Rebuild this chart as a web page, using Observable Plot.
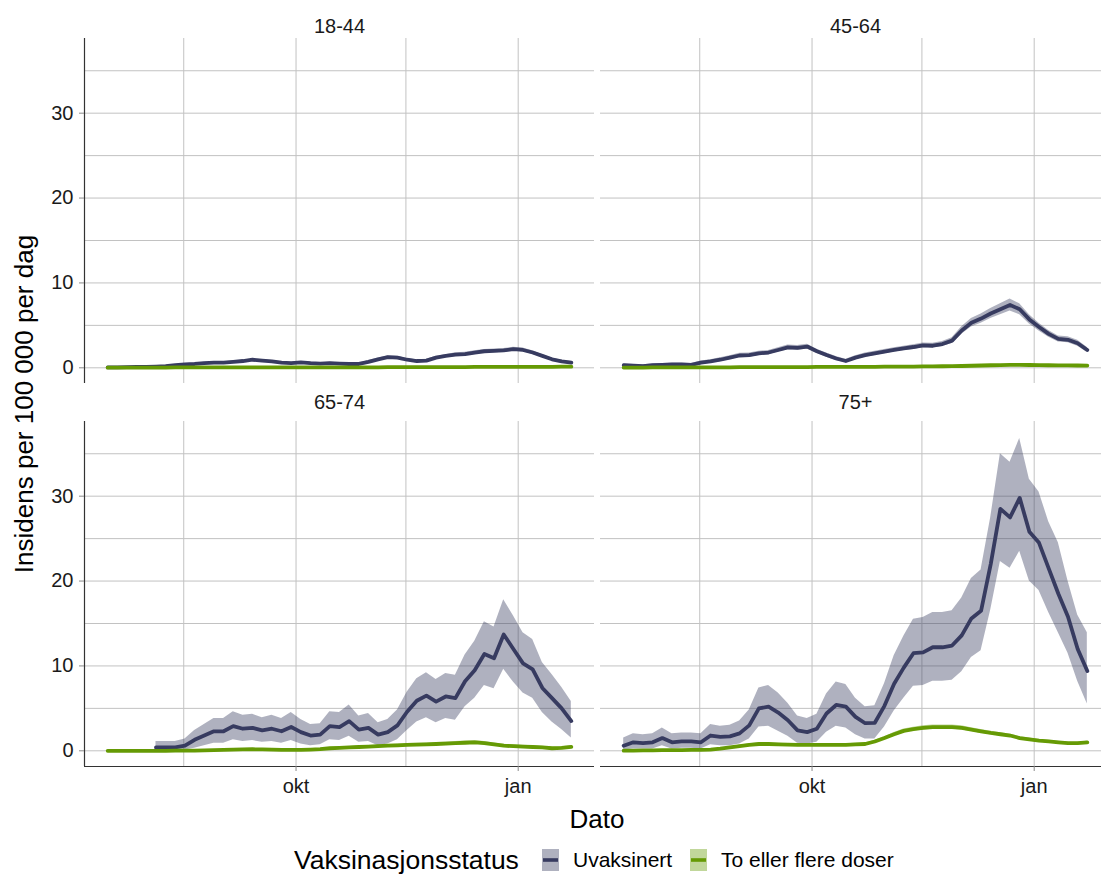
<!DOCTYPE html>
<html>
<head>
<meta charset="utf-8">
<script src="https://cdn.jsdelivr.net/npm/d3@7"></script>
<script src="https://cdn.jsdelivr.net/npm/@observablehq/plot@0.6"></script>
<style>
  html, body { margin: 0; padding: 0; overflow: hidden; background: #fff; }
  #chart { position: relative; width: 1101px; }
  #chart > svg { max-width: none !important; width: 1112px !important; height: 840px !important; display: block; }
  .legend { position: relative; height: 39px; font-family: "Liberation Sans", Arial, sans-serif; color: #000; }
  .legend .title { position: absolute; left: 294px; top: 4px; font-size: 26.5px; line-height: 32px; }
  .legend .item { position: absolute; top: 4px; height: 32px; display: flex; align-items: center; font-size: 21px; }
  .legend .item svg { margin-right: 14px; }
</style>
</head>
<body>
<div id="chart"></div>
<script>
// Daily incidence per 100 000, sampled every fourth day (15 Jul 2021 – 23 Jan 2022)
const dates = [
  "2021-07-15","2021-07-19","2021-07-23","2021-07-27","2021-07-31","2021-08-04","2021-08-08","2021-08-12","2021-08-16","2021-08-20",
  "2021-08-24","2021-08-28","2021-09-01","2021-09-05","2021-09-09","2021-09-13","2021-09-17","2021-09-21","2021-09-25","2021-09-29",
  "2021-10-03","2021-10-07","2021-10-11","2021-10-15","2021-10-19","2021-10-23","2021-10-27","2021-10-31","2021-11-04","2021-11-08",
  "2021-11-12","2021-11-16","2021-11-20","2021-11-24","2021-11-28","2021-12-02","2021-12-06","2021-12-10","2021-12-14","2021-12-18",
  "2021-12-22","2021-12-26","2021-12-30","2022-01-03","2022-01-07","2022-01-11","2022-01-15","2022-01-19","2022-01-23"
];

const ageGroups = ["18-44", "45-64", "65-74", "75+"];
const statuses = ["Uvaksinert", "To eller flere doser"];
const statusColors = ["#373b60", "#659a04"];

// 18-44
const uv1   = [0.05,0.05,0.08,0.1,0.12,0.15,0.2,0.3,0.4,0.45, 0.55,0.6,0.6,0.7,0.8,0.95,0.85,0.75,0.6,0.55, 0.65,0.55,0.5,0.55,0.5,0.45,0.45,0.7,1.0,1.25, 1.2,0.95,0.8,0.85,1.2,1.4,1.55,1.6,1.8,1.95, 2.0,2.05,2.2,2.1,1.8,1.4,1.0,0.75,0.6];
const uvLo1 = [0,0,0.03,0.05,0.07,0.1,0.15,0.25,0.3,0.35, 0.45,0.5,0.5,0.6,0.7,0.85,0.75,0.65,0.5,0.45, 0.55,0.45,0.4,0.45,0.4,0.35,0.35,0.55,0.85,1.1, 1.05,0.8,0.65,0.7,1.05,1.25,1.33,1.38,1.58,1.73, 1.78,1.83,1.98,1.88,1.58,1.25,0.85,0.6,0.45];
const uvHi1 = [0.1,0.1,0.13,0.15,0.17,0.2,0.25,0.35,0.5,0.55, 0.65,0.7,0.7,0.8,0.9,1.05,0.95,0.85,0.7,0.65, 0.75,0.65,0.6,0.65,0.6,0.55,0.55,0.85,1.15,1.4, 1.35,1.1,0.95,1.0,1.35,1.55,1.77,1.82,2.02,2.17, 2.22,2.27,2.42,2.32,2.02,1.55,1.15,0.9,0.75];
const vx1   = [0.02,0.02,0.02,0.03,0.03,0.03,0.03,0.04,0.04,0.04, 0.04,0.05,0.05,0.05,0.05,0.05,0.05,0.05,0.05,0.05, 0.05,0.05,0.05,0.05,0.05,0.05,0.06,0.06,0.06,0.07, 0.07,0.07,0.07,0.08,0.08,0.08,0.09,0.09,0.1,0.1, 0.1,0.11,0.11,0.12,0.12,0.12,0.12,0.13,0.14];
const vxLo1 = [0,0,0,0.01,0.01,0.01,0.01,0.02,0.02,0.02, 0.02,0.03,0.03,0.03,0.03,0.03,0.03,0.03,0.03,0.03, 0.03,0.03,0.03,0.03,0.03,0.03,0.04,0.04,0.04,0.05, 0.05,0.05,0.05,0.06,0.06,0.06,0.07,0.07,0.08,0.08, 0.08,0.09,0.09,0.1,0.1,0.1,0.1,0.11,0.12];
const vxHi1 = [0.05,0.05,0.05,0.06,0.06,0.06,0.06,0.07,0.07,0.07, 0.07,0.08,0.08,0.08,0.08,0.08,0.08,0.08,0.08,0.08, 0.08,0.08,0.08,0.08,0.08,0.08,0.09,0.09,0.09,0.1, 0.1,0.1,0.1,0.11,0.11,0.11,0.12,0.12,0.13,0.13, 0.13,0.14,0.14,0.15,0.15,0.15,0.15,0.16,0.17];

// 45-64
const uv2   = [0.3,0.25,0.2,0.3,0.35,0.4,0.4,0.35,0.6,0.75, 0.95,1.2,1.45,1.5,1.7,1.8,2.1,2.4,2.35,2.5, 1.95,1.5,1.1,0.8,1.2,1.5,1.7,1.9,2.1,2.3, 2.45,2.65,2.6,2.8,3.2,4.4,5.3,5.8,6.4,6.9, 7.4,6.9,5.7,4.8,4.0,3.4,3.3,2.9,2.1];
const uvLo2 = [0.15,0.1,0.05,0.15,0.2,0.25,0.25,0.2,0.4,0.55, 0.72,0.97,1.2,1.25,1.45,1.55,1.85,2.12,2.07,2.22, 1.7,1.25,0.87,0.6,0.97,1.25,1.45,1.65,1.85,2.05, 2.17,2.37,2.32,2.5,2.85,3.95,4.8,5.25,5.8,6.25, 6.7,6.25,5.15,4.35,3.6,3.05,2.95,2.55,1.8];
const uvHi2 = [0.45,0.4,0.35,0.45,0.5,0.55,0.55,0.5,0.8,0.95, 1.18,1.43,1.7,1.75,1.95,2.05,2.35,2.68,2.63,2.78, 2.2,1.75,1.33,1.0,1.43,1.75,1.95,2.15,2.35,2.55, 2.73,2.93,2.88,3.1,3.55,4.85,5.8,6.35,7.0,7.55, 8.1,7.55,6.25,5.25,4.4,3.75,3.65,3.25,2.4];
const vx2   = [0.03,0.03,0.03,0.04,0.04,0.04,0.05,0.05,0.05,0.06, 0.06,0.06,0.07,0.07,0.07,0.08,0.08,0.08,0.09,0.09, 0.1,0.1,0.1,0.11,0.11,0.12,0.12,0.13,0.14,0.15, 0.15,0.16,0.17,0.18,0.19,0.21,0.24,0.27,0.3,0.32, 0.34,0.35,0.33,0.31,0.3,0.29,0.28,0.27,0.26];
const vxLo2 = [0,0,0,0,0,0,0.01,0.01,0.01,0.02, 0.02,0.02,0.03,0.03,0.03,0.04,0.04,0.04,0.05,0.05, 0.06,0.06,0.06,0.07,0.07,0.08,0.08,0.09,0.1,0.11, 0.11,0.12,0.13,0.14,0.15,0.16,0.19,0.22,0.24,0.26, 0.28,0.29,0.27,0.25,0.24,0.23,0.22,0.21,0.2];
const vxHi2 = [0.08,0.08,0.08,0.09,0.09,0.09,0.1,0.1,0.1,0.11, 0.11,0.11,0.12,0.12,0.12,0.13,0.13,0.13,0.14,0.14, 0.15,0.15,0.15,0.16,0.16,0.17,0.17,0.18,0.19,0.2, 0.2,0.21,0.22,0.23,0.24,0.26,0.3,0.33,0.36,0.38, 0.4,0.41,0.39,0.37,0.36,0.35,0.34,0.33,0.32];

// 65-74 (no unvaccinated cases before mid-August)
const uv3   = [null,null,null,null,null,0.4,0.4,0.4,0.6,1.3, 1.8,2.3,2.3,2.9,2.6,2.7,2.4,2.6,2.3,2.8, 2.2,1.8,1.9,2.9,2.8,3.5,2.5,2.7,1.9,2.2, 3.0,4.6,5.9,6.5,5.8,6.4,6.2,8.2,9.5,11.4, 10.9,13.7,12.0,10.3,9.6,7.4,6.2,5.0,3.5];
const uvLo3 = [null,null,null,null,null,0,0,0,0.1,0.3, 0.6,0.9,0.9,1.3,1.1,1.2,1.0,1.1,0.9,1.2, 0.8,0.6,0.7,1.3,1.2,1.7,1.0,1.1,0.6,0.8, 1.3,2.4,3.4,3.9,3.3,3.8,3.6,5.2,6.2,7.7, 7.3,9.6,8.1,6.8,6.2,4.5,3.4,2.5,1.5];
const uvHi3 = [null,null,null,null,null,1.1,1.1,1.1,1.4,2.4, 3.1,3.8,3.8,4.6,4.2,4.3,3.9,4.2,3.8,4.5, 3.7,3.1,3.2,4.6,4.5,5.4,4.1,4.4,3.3,3.7, 4.8,6.9,8.5,9.2,8.4,9.1,8.9,11.3,12.9,15.2, 14.6,17.8,15.9,13.9,13.1,10.4,9.0,7.5,5.8];
const vx3   = [0,0,0,0,0,0,0,0.01,0.02,0.03, 0.05,0.07,0.1,0.13,0.16,0.18,0.16,0.14,0.12,0.12, 0.12,0.15,0.2,0.3,0.35,0.4,0.45,0.5,0.55,0.6, 0.65,0.7,0.72,0.75,0.8,0.85,0.9,0.95,1.0,0.9, 0.75,0.6,0.55,0.5,0.45,0.4,0.3,0.35,0.45];
const vxLo3 = [0,0,0,0,0,0,0,0,0,0, 0.01,0.03,0.05,0.08,0.1,0.12,0.1,0.08,0.07,0.07, 0.07,0.09,0.13,0.21,0.25,0.3,0.34,0.38,0.42,0.46, 0.5,0.54,0.56,0.58,0.62,0.66,0.7,0.74,0.78,0.7, 0.57,0.44,0.39,0.35,0.31,0.27,0.18,0.22,0.3];
const vxHi3 = [0.02,0.02,0.02,0.02,0.03,0.03,0.03,0.04,0.05,0.07, 0.09,0.12,0.15,0.18,0.22,0.24,0.22,0.2,0.17,0.17, 0.17,0.21,0.27,0.39,0.45,0.5,0.56,0.62,0.68,0.74, 0.8,0.86,0.88,0.92,0.98,1.04,1.1,1.16,1.22,1.1, 0.93,0.76,0.71,0.65,0.59,0.53,0.42,0.48,0.6];

// 75+
const uv4   = [0.6,1.0,0.9,1.0,1.5,1.0,1.1,1.1,1.0,1.8, 1.65,1.7,2.05,3.0,5.0,5.2,4.5,3.6,2.4,2.2, 2.6,4.4,5.4,5.2,4.0,3.25,3.3,5.3,7.9,9.8, 11.5,11.6,12.2,12.2,12.4,13.6,15.6,16.5,22.0,28.5, 27.5,29.8,25.8,24.5,21.5,18.5,15.8,12.0,9.4];
const uvLo4 = [0.1,0.2,0.2,0.2,0.6,0.2,0.3,0.3,0.2,0.7, 0.6,0.6,0.8,1.4,2.8,2.9,2.3,1.7,0.9,0.8, 1.0,2.2,2.9,2.7,1.9,1.4,1.4,2.8,4.7,6.2, 7.6,7.7,8.2,8.2,8.3,9.3,11.0,11.8,16.6,22.3, 21.5,23.5,20.0,18.9,16.3,13.9,11.5,8.2,5.5];
const uvHi4 = [1.5,2.0,1.9,2.0,2.7,2.0,2.1,2.1,2.0,3.1, 2.9,3.0,3.5,4.8,7.4,7.7,6.8,5.6,4.1,3.8, 4.3,6.7,8.1,7.8,6.2,5.2,5.3,7.9,11.2,13.5, 15.5,15.7,16.3,16.3,16.5,18.0,20.3,21.3,27.5,35.0, 34.0,36.8,32.0,30.5,27.0,24.5,20.0,16.0,13.9];
const vx4   = [0.02,0.03,0.05,0.06,0.07,0.08,0.09,0.1,0.12,0.15, 0.25,0.4,0.55,0.7,0.8,0.8,0.75,0.72,0.7,0.7, 0.7,0.7,0.7,0.7,0.75,0.8,1.1,1.5,1.95,2.35, 2.55,2.7,2.8,2.8,2.8,2.7,2.5,2.3,2.1,1.95, 1.8,1.5,1.35,1.2,1.1,1.0,0.9,0.9,1.0];
const vxLo4 = [0,0,0.01,0.02,0.03,0.04,0.05,0.06,0.08,0.1, 0.18,0.31,0.45,0.58,0.67,0.67,0.62,0.6,0.58,0.58, 0.58,0.58,0.58,0.58,0.62,0.67,0.95,1.33,1.75,2.13, 2.32,2.46,2.55,2.55,2.55,2.46,2.27,2.08,1.9,1.76, 1.62,1.34,1.2,1.06,0.97,0.88,0.79,0.79,0.88];
const vxHi4 = [0.05,0.06,0.09,0.1,0.11,0.12,0.13,0.14,0.16,0.2, 0.32,0.49,0.65,0.82,0.93,0.93,0.88,0.84,0.82,0.82, 0.82,0.82,0.82,0.82,0.88,0.93,1.25,1.67,2.15,2.57, 2.78,2.94,3.05,3.05,3.05,2.94,2.73,2.52,2.3,2.14, 1.98,1.66,1.5,1.34,1.23,1.12,1.01,1.01,1.12];

// Axis ticks and limits
const xLimits = ["2021-07-05T09:36Z", "2022-02-01T14:24Z"];
const xTicks = ["2021-10-01", "2022-01-01"];
const xTickLabels = ["okt", "jan"];
const xMinorGrid = ["2021-08-15T12:00Z", "2021-11-15T12:00Z"];
const yLimits = [-1.85, 38.8];
const yTicks = [0, 10, 20, 30];
const yGrid = [0, 5, 10, 15, 20, 25, 30, 35];

// Long table: one row per date, age group and vaccination status
const series = [
  [uv1, uvLo1, uvHi1, vx1, vxLo1, vxHi1],
  [uv2, uvLo2, uvHi2, vx2, vxLo2, vxHi2],
  [uv3, uvLo3, uvHi3, vx3, vxLo3, vxHi3],
  [uv4, uvLo4, uvHi4, vx4, vxLo4, vxHi4]
];
const rows = [];
series.forEach(([uv, uvLo, uvHi, vx, vxLo, vxHi], p) => {
  const col = p % 2, row = Math.floor(p / 2);
  [[uv, uvLo, uvHi], [vx, vxLo, vxHi]].forEach(([v, lo, hi], s) => {
    dates.forEach((d, i) => {
      if (v[i] == null) return;
      rows.push({date: new Date(d), col, row, status: statuses[s], v: v[i], lo: lo[i], hi: hi[i]});
    });
  });
});
const strips = ageGroups.map((label, p) => ({label, col: p % 2, row: Math.floor(p / 2)}));
const leftPanels = strips.filter(d => d.col === 0);
const bottomPanels = strips.filter(d => d.row === 1);

const font = '"Liberation Sans", Arial, sans-serif';
const x0 = new Date(xLimits[0]);

const chart = Plot.plot({
  width: 1112,
  height: 840,
  marginLeft: 83,
  marginRight: 1,
  marginTop: 38,
  marginBottom: 73,
  style: {fontFamily: font, fontSize: "20px", color: "#1a1a1a", background: "#fff", overflow: "visible", maxWidth: "none"},
  fx: {axis: null, domain: [0, 1], paddingInner: 0.0116, paddingOuter: 0},
  fy: {axis: null, domain: [0, 1], paddingInner: 0.099, paddingOuter: 0},
  x: {type: "utc", domain: xLimits.map(d => new Date(d))},
  y: {domain: yLimits},
  color: {domain: statuses, range: statusColors},
  marks: [
    Plot.gridX([...xMinorGrid, ...xTicks].map(d => new Date(d)), {stroke: "#c2c2c2", strokeOpacity: 1, strokeWidth: 1}),
    Plot.gridY(yGrid, {stroke: "#c2c2c2", strokeOpacity: 1, strokeWidth: 1}),
    Plot.areaY(rows, {x: "date", y1: "lo", y2: "hi", fx: "col", fy: "row", fill: "status", fillOpacity: 0.4, curve: "linear"}),
    Plot.lineY(rows, {x: "date", y: "v", fx: "col", fy: "row", stroke: "status", strokeWidth: 3.8, curve: "linear"}),
    Plot.ruleX(leftPanels, {x: () => x0, fx: "col", fy: "row", stroke: "#333", strokeWidth: 1.2}),
    Plot.ruleY(bottomPanels, {y: () => yLimits[0], fx: "col", fy: "row", stroke: "#333", strokeWidth: 1.2}),
    Plot.axisY({ticks: yTicks, tickSize: 5, tickPadding: 6, fontSize: 20, stroke: "#8a8a8a", fill: "#1a1a1a", label: null}),
    Plot.axisX({
      ticks: xTicks.map(d => new Date(d)),
      tickFormat: (d, i) => xTickLabels[i],
      tickSize: 5, tickPadding: 7, fontSize: 20, stroke: "#8a8a8a", fill: "#1a1a1a", label: null
    }),
    Plot.text(strips.filter(d => d.row === 0), {text: "label", fx: "col", fy: "row", frameAnchor: "top", lineAnchor: "bottom", dy: -6, fontSize: 20, fill: "#1a1a1a"}),
    Plot.text(strips.filter(d => d.row === 1), {text: "label", fx: "col", fy: "row", frameAnchor: "top", lineAnchor: "bottom", dy: -13, fontSize: 20, fill: "#1a1a1a"})
  ]
});

// Axis titles
const svg = d3.select(chart);
svg.append("text")
  .attr("transform", "translate(33,404) rotate(-90)")
  .attr("text-anchor", "middle")
  .attr("font-family", font).attr("font-size", 26).attr("fill", "#000")
  .text("Insidens per 100 000 per dag");
svg.append("text")
  .attr("x", 597).attr("y", 828)
  .attr("text-anchor", "middle")
  .attr("font-family", font).attr("font-size", 26).attr("fill", "#000")
  .text("Dato");

const container = document.getElementById("chart");
container.appendChild(chart);

// Legend below the plot
const legend = d3.select(container).append("div").attr("class", "legend");
legend.append("div").attr("class", "title").text("Vaksinasjonsstatus");
const itemLeft = [542, 690];
statuses.forEach((s, i) => {
  const item = legend.append("div").attr("class", "item").style("left", itemLeft[i] + "px");
  const key = item.append("svg").attr("width", 17).attr("height", 22);
  key.append("rect").attr("width", 17).attr("height", 22).attr("fill", statusColors[i]).attr("fill-opacity", 0.4);
  key.append("line").attr("x1", 1).attr("x2", 16).attr("y1", 11).attr("y2", 11)
    .attr("stroke", statusColors[i]).attr("stroke-width", 3.6);
  item.append("span").text(s);
});
</script>
</body>
</html>
